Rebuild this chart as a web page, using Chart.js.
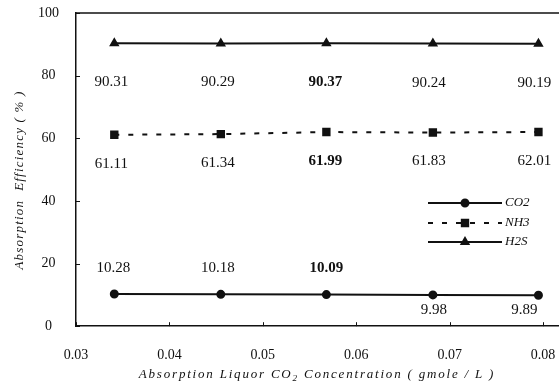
<!DOCTYPE html>
<html>
<head>
<meta charset="utf-8">
<script src="https://cdn.jsdelivr.net/npm/chart.js@4/dist/chart.umd.min.js"></script>
<style>
  html, body { margin: 0; padding: 0; background: #fff; overflow: hidden; }
</style>
</head>
<body>
<canvas id="chart" width="559" height="389"></canvas>
<script>
// values
const concentration = [0.0341, 0.0455, 0.0568, 0.0682, 0.0795];
const co2Efficiency = [10.28, 10.18, 10.09, 9.98, 9.89];
const nh3Efficiency = [61.11, 61.34, 61.99, 61.83, 62.01];
const h2sEfficiency = [90.31, 90.29, 90.37, 90.24, 90.19];
const xTicks = [0.03, 0.04, 0.05, 0.06, 0.07, 0.08];
const yTicks = [0, 20, 40, 60, 80, 100];
const seriesNames = ['CO2', 'NH3', 'H2S'];

const ink = '#111';
const serif = '"Liberation Serif", "Times New Roman", serif';

function toPoints(ys) {
  return concentration.map((x, i) => ({ x: x, y: ys[i] }));
}

// label offsets (px) from each point, per series
const labelShift = {
  CO2: [[-1, -26], [-3, -26], [0, -26], [1, 15], [-14, 15]],
  NH3: [[-3, 29], [-3, 29], [-1, 29], [-4, 29], [-4, 29]],
  H2S: [[-3, 39], [-3, 39], [-1, 39], [-4, 39], [-4, 39]]
};

// draws text with letter spacing, parts may be subscript
function spacedText(ctx, parts, size, spacing) {
  ctx.letterSpacing = spacing + 'px';
  let total = 0;
  parts.forEach(p => {
    ctx.font = 'italic ' + (p.sub ? size * 0.7 : size) + 'px ' + serif;
    p.w = ctx.measureText(p.text).width;
    total += p.w;
  });
  let x = -total / 2;
  parts.forEach(p => {
    ctx.font = 'italic ' + (p.sub ? size * 0.7 : size) + 'px ' + serif;
    ctx.textAlign = 'left';
    ctx.textBaseline = 'middle';
    ctx.fillText(p.text, x, p.sub ? size * 0.3 : 0);
    x += p.w;
  });
  ctx.letterSpacing = '0px';
}

const decorPlugin = {
  id: 'decor',
  afterDraw(chart) {
    const ctx = chart.ctx;
    const area = chart.chartArea;
    const xs = chart.scales.x;
    const ys = chart.scales.y;
    ctx.save();
    ctx.strokeStyle = ink;
    ctx.fillStyle = ink;

    // top frame line
    ctx.lineWidth = 1.5;
    ctx.beginPath();
    ctx.moveTo(area.left, area.top);
    ctx.lineTo(area.right, area.top);
    ctx.stroke();

    // inward tick marks
    ctx.lineWidth = 1;
    ctx.beginPath();
    xs.ticks.forEach(t => {
      const px = Math.round(xs.getPixelForValue(t.value)) + 0.5;
      ctx.moveTo(px, area.bottom);
      ctx.lineTo(px, area.bottom - 4);
    });
    ys.ticks.forEach(t => {
      const py = Math.round(ys.getPixelForValue(t.value)) + 0.5;
      ctx.moveTo(area.left, py);
      ctx.lineTo(area.left + 4, py);
    });
    ctx.stroke();

    // value labels
    chart.data.datasets.forEach((ds, di) => {
      const meta = chart.getDatasetMeta(di);
      const shifts = labelShift[ds.label];
      meta.data.forEach((pt, i) => {
        ctx.font = (i === 2 ? 'bold ' : '') + '15px ' + serif;
        ctx.textAlign = 'center';
        ctx.textBaseline = 'middle';
        ctx.fillText(ds.data[i].y.toFixed(2), pt.x + shifts[i][0], pt.y + shifts[i][1]);
      });
    });

    // legend: line sample with marker, name to the right
    const lx0 = 428, lx1 = 502, ly = [203, 223, 242];
    seriesNames.forEach((name, k) => {
      const di = chart.data.datasets.findIndex(d => d.label === name);
      const ds = chart.data.datasets[di];
      ctx.lineWidth = ds.borderWidth;
      ctx.setLineDash(ds.borderDash || []);
      ctx.beginPath();
      ctx.moveTo(lx0, ly[k]);
      ctx.lineTo(lx1, ly[k]);
      ctx.stroke();
      ctx.setLineDash([]);
      Chart.helpers.drawPoint(ctx, {
        pointStyle: ds.pointStyle, radius: ds.pointRadius, rotation: 0, borderWidth: 1
      }, (lx0 + lx1) / 2, ly[k]);
      ctx.font = 'italic 13px ' + serif;
      ctx.textAlign = 'left';
      ctx.textBaseline = 'middle';
      ctx.fillText(name, lx1 + 3, ly[k]);
    });

    // axis titles
    ctx.save();
    ctx.translate(317, 375);
    spacedText(ctx, [
      { text: 'Absorption Liquor CO' },
      { text: '2', sub: true },
      { text: ' Concentration ( gmole / L )' }
    ], 13, 1.8);
    ctx.restore();

    ctx.save();
    ctx.translate(20, 180);
    ctx.rotate(-Math.PI / 2);
    spacedText(ctx, [{ text: 'Absorption  Efficiency ( % )' }], 13, 1.2);
    ctx.restore();

    ctx.restore();
  }
};

const lineBase = {
  borderColor: ink,
  backgroundColor: ink,
  pointBorderColor: ink,
  pointBackgroundColor: ink,
  borderWidth: 2,
  tension: 0,
  fill: false
};

// invisible tick marks, used only to push the tick labels away from the axis
function spacerGrid(len) {
  return { display: true, drawOnChartArea: false, drawTicks: true, tickLength: len, color: 'rgba(0,0,0,0)' };
}

new Chart(document.getElementById('chart'), {
  type: 'line',
  data: {
    datasets: [
      Object.assign({}, lineBase, {
        label: 'CO2', data: toPoints(co2Efficiency),
        pointStyle: 'circle', pointRadius: 3.5
      }),
      Object.assign({}, lineBase, {
        label: 'NH3', data: toPoints(nh3Efficiency),
        pointStyle: 'rect', pointRadius: 4.5, borderDash: [5, 9]
      }),
      Object.assign({}, lineBase, {
        label: 'H2S', data: toPoints(h2sEfficiency),
        pointStyle: 'triangle', pointRadius: 4
      })
    ]
  },
  options: {
    responsive: false,
    animation: false,
    layout: { autoPadding: false, padding: { left: 36, right: 0, top: 13, bottom: 23 } },
    plugins: {
      legend: { display: false },
      tooltip: { enabled: false }
    },
    scales: {
      x: {
        type: 'linear',
        min: 0.03,
        max: 0.0817,
        afterBuildTicks: (scale) => { scale.ticks = xTicks.map(v => ({ value: v })); },
        afterFit: (scale) => { scale.paddingLeft = 0; scale.paddingRight = 0; },
        grid: spacerGrid(19),
        border: { display: true, color: ink, width: 1.5 },
        ticks: {
          color: ink,
          padding: 2,
          font: { family: serif, size: 14 },
          callback: (v) => Number(v).toFixed(2)
        }
      },
      y: {
        min: 0,
        max: 100,
        afterBuildTicks: (scale) => { scale.ticks = yTicks.map(v => ({ value: v })); },
        grid: spacerGrid(15),
        border: { display: true, color: ink, width: 1.5 },
        ticks: {
          color: ink,
          padding: 2,
          crossAlign: 'center',
          font: { family: serif, size: 14 }
        }
      }
    }
  },
  plugins: [decorPlugin]
});
</script>
</body>
</html>
